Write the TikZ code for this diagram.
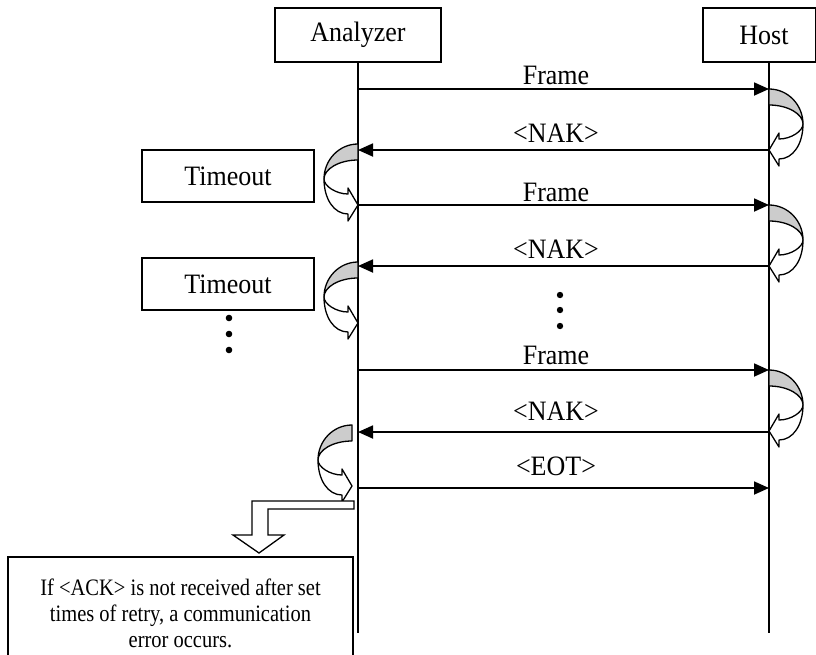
\documentclass[tikz,border=0pt]{standalone}
\usepackage{fontspec}
\setmainfont{Liberation Serif}
\usepackage{graphicx}
\usetikzlibrary{arrows.meta}
\newcommand{\sy}[1]{\scalebox{1}[1.08]{#1}}
\newcommand{\curvarr}[3]{%
\begin{scope}[shift={(#1,#2)},xscale=#3]
 \filldraw[fill=gray!40,line width=1.3pt,line join=round] (0,0) .. controls (-19,0) and (-34,16) .. (-34,35) .. controls (-34,25) and (-19,16) .. (0,16) -- cycle;
 \filldraw[fill=white,line width=1.3pt,line join=round] (-34,35) .. controls (-34,42) and (-22,50) .. (-10,50) -- (-10,44) -- (0,61) -- (-10,77) -- (-10,70) .. controls (-24,70) and (-34,55) .. (-34,35) -- cycle;
\end{scope}}
\begin{document}
\begin{tikzpicture}[x=1pt,y=-1pt,
  actor/.style={draw,line width=1.3pt,minimum height=54pt,inner sep=0pt,font=\fontsize{26}{30}\selectfont},
  tbox/.style={draw,line width=1.3pt,minimum width=172pt,minimum height=52pt,inner sep=0pt,font=\fontsize{26}{30}\selectfont},
  lab/.style={inner sep=0pt,anchor=base,font=\fontsize{26}{30}\selectfont},
  life/.style={line width=1.3pt},
  msg/.style={line width=1.8pt,-{Triangle[length=15pt,width=13pt]}},
  dot/.style={fill=black,draw=none}]
\useasboundingbox (0,0) rectangle (816,654);
\clip (0,0) rectangle (816,654);
\fill[white] (0,0) rectangle (816,654);
% actors
\node[actor,minimum width=166pt] (an) at (358,35) {\sy{Analyzer}};
\node[actor,minimum width=113pt] (ho) at (759.5,35) {\hspace*{9pt}\sy{Host}};
\coordinate (anend) at (358,633);
\coordinate (hoend) at (769,633);
\draw[life] (an.south) -- (anend);
\draw[life] (ho.south -| hoend) -- (hoend);
% timeout boxes
\node[tbox] (t1) at (228,176) {\sy{Timeout}};
\node[tbox] (t2) at (228,284) {\sy{Timeout}};
% message end points
\coordinate (a1) at (358,89);  \coordinate (h1) at (769,89);
\coordinate (a2) at (358,150); \coordinate (h2) at (769,150);
\coordinate (a3) at (358,205); \coordinate (h3) at (769,205);
\coordinate (a4) at (358,266); \coordinate (h4) at (769,266);
\coordinate (a5) at (358,370); \coordinate (h5) at (769,370);
\coordinate (a6) at (358,432); \coordinate (h6) at (769,432);
\coordinate (a7) at (358,488); \coordinate (h7) at (769,488);
% curved arrows
\curvarr{769}{89}{-1}
\curvarr{769}{205}{-1}
\curvarr{769}{370}{-1}
\curvarr{358}{144}{1}
\curvarr{358}{262}{1}
\curvarr{352}{425}{1}
% messages
\draw[msg] (a1) -- (h1);
\draw[msg] (h2) -- (a2);
\draw[msg] (a3) -- (h3);
\draw[msg] (h4) -- (a4);
\draw[msg] (a5) -- (h5);
\draw[msg] (h6) -- (a6);
\draw[msg] (a7) -- (h7);
\node[lab] (l1) at (556,84) {\sy{Frame}};
\node[lab] (l2) at (556,142) {\sy{<NAK>}};
\node[lab] (l3) at (556,201) {\sy{Frame}};
\node[lab] (l4) at (556,258) {\sy{<NAK>}};
\node[lab] (l5) at (556,364) {\sy{Frame}};
\node[lab] (l6) at (556,420) {\sy{<NAK>}};
\node[lab] (l7) at (556,475) {\sy{<EOT>}};
% dots
\fill[dot] (560,295) circle (3.2);
\fill[dot] (560,310) circle (3.2);
\fill[dot] (560,326) circle (3.2);
\fill[dot] (229,318) circle (3.3);
\fill[dot] (229,334) circle (3.3);
\fill[dot] (229,350) circle (3.3);
% elbow block arrow
\draw[fill=white,line width=1.3pt,line join=miter] (252,501) -- (354,501) -- (354,509) -- (268,509) -- (268,535) -- (284,535) -- (259,553) -- (233,535) -- (252,535) -- cycle;
% note
\node[draw,line width=1.3pt,minimum width=345pt,minimum height=118pt,inner sep=0pt,font=\fontsize{20.5}{22.6}\selectfont] (note) at (180.5,616) {\scalebox{1}[1.15]{\begin{tabular}{@{}c@{}}If <ACK> is not received after set\\ times of retry, a communication\\ error occurs.\end{tabular}}};
\end{tikzpicture}
\end{document}
